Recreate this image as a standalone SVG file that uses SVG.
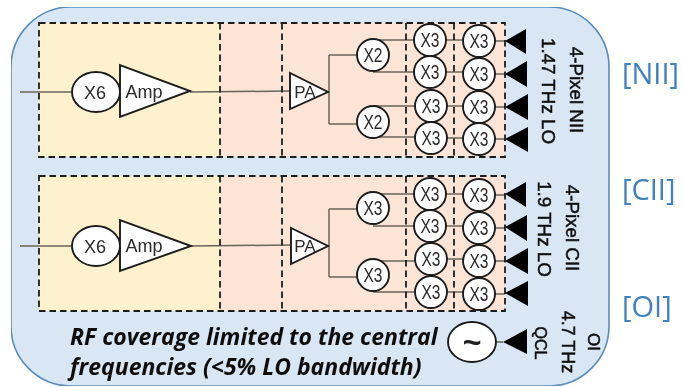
<svg xmlns="http://www.w3.org/2000/svg" width="683" height="387" viewBox="0 0 683 387">
<defs><filter id="soft" x="0" y="0" width="1" height="1"><feGaussianBlur stdDeviation="0.45"/></filter></defs>
<style>
text{font-family:"Liberation Sans",Arial,sans-serif;fill:#222}
.n{fill:#fff;stroke:#1c1c1c;stroke-width:1.9}
.l{font-size:18px;text-anchor:middle;fill:#2a2a2a}
.x{font-size:20px;text-anchor:middle;fill:#2a2a2a}
.c{fill:none;stroke:#6b6458;stroke-width:1.5}
.d{fill:none;stroke:#1c1c1c;stroke-width:1.8;stroke-dasharray:6.5 4}
.tip{fill:#000;stroke:none}
.v{font-size:18.8px;text-anchor:middle;fill:#111;stroke:#111;stroke-width:.5}
.o{font-family:"Open Sans",sans-serif;font-size:29px;fill:#3f82bd}
.b{font-family:"Open Sans",sans-serif;font-size:23px;font-weight:700;font-style:italic;fill:#111}
</style>
<g filter="url(#soft)">
<g id="panel"><rect x="11" y="7" width="598" height="379" rx="60" fill="#d9e6f4" stroke="#5b8db8" stroke-width="1.6"/></g>
<g id="bands">
<rect x="39" y="23" width="181" height="134" fill="#fef1cd"/><rect x="220" y="23" width="285" height="134" fill="#fce4d6"/>
<rect x="39" y="176" width="181" height="135" fill="#fef1cd"/><rect x="220" y="176" width="285" height="135" fill="#fce4d6"/>
</g>
<g id="connectors">
<path class="c" d="M20 92H72M190 92L290 91M328 92H329M329 55V124M329 55H357M329 124H357M373 40H414M373 72H414M373 106H415M373 137H415M446 40H463M446 72H463M447 106H463M447 138H463M495 41H505M495 74H505M495 107H505M495 139H505"/>
<path class="c" d="M20 246H72M190 246L290 245M328 246H329M329 209V277M329 209H357M329 277H357M373 194H414M373 226H414M373 261H415M373 292H415M446 194H463M446 226H463M447 259H463M447 292H463M495 195H505M495 228H505M495 261H505M495 294H505M496 342H503"/>
</g>
<g id="dashes">
<path class="d" d="M39 23H505V157H39ZM220 23V157M282 23V157M406 23V157M454 23V157"/>
<path class="d" d="M39 176H505V311H39ZM220 176V311M282 176V311M406 176V311M454 176V311"/>
</g>
<g id="x6-a"><ellipse class="n" cx="96" cy="92" rx="24" ry="20"/><text class="l" x="95" y="98.500">X6</text></g>
<g id="amp-a"><path class="n" d="M120 65V117L190 91Z"/><text class="l" x="144" y="98">Amp</text></g>
<g id="pa-a"><path class="n" d="M290 73V109L328 92Z"/><text class="l" x="305" y="98" style="font-size:17px">PA</text></g>
<g id="x6-b"><ellipse class="n" cx="96" cy="246" rx="24" ry="20"/><text class="l" x="95" y="252.500">X6</text></g>
<g id="amp-b"><path class="n" d="M120 220V271L191 246Z"/><text class="l" x="144" y="252">Amp</text></g>
<g id="pa-b"><path class="n" d="M291 228V264L328 246Z"/><text class="l" x="305" y="252" style="font-size:17px">PA</text></g>
<g id="a1"><circle class="n" cx="373" cy="55" r="16"/><text class="x" x="373" y="62" textLength="19" lengthAdjust="spacingAndGlyphs">X2</text></g>
<g id="a2"><circle class="n" cx="373" cy="122" r="16"/><text class="x" x="373" y="129" textLength="19" lengthAdjust="spacingAndGlyphs">X2</text></g>
<g id="a3"><circle class="n" cx="430" cy="40" r="16"/><text class="x" x="430" y="47" textLength="19" lengthAdjust="spacingAndGlyphs">X3</text></g>
<g id="a4"><circle class="n" cx="430" cy="72" r="16"/><text class="x" x="430" y="79" textLength="19" lengthAdjust="spacingAndGlyphs">X3</text></g>
<g id="a5"><circle class="n" cx="431" cy="106" r="16"/><text class="x" x="431" y="113" textLength="19" lengthAdjust="spacingAndGlyphs">X3</text></g>
<g id="a6"><circle class="n" cx="431" cy="138" r="16"/><text class="x" x="431" y="145" textLength="19" lengthAdjust="spacingAndGlyphs">X3</text></g>
<g id="a7"><circle class="n" cx="479" cy="41" r="16"/><text class="x" x="479" y="48" textLength="19" lengthAdjust="spacingAndGlyphs">X3</text></g>
<g id="a8"><circle class="n" cx="479" cy="74" r="16"/><text class="x" x="479" y="81" textLength="19" lengthAdjust="spacingAndGlyphs">X3</text></g>
<g id="a9"><circle class="n" cx="479" cy="107" r="16"/><text class="x" x="479" y="114" textLength="19" lengthAdjust="spacingAndGlyphs">X3</text></g>
<g id="a10"><circle class="n" cx="479" cy="139" r="16"/><text class="x" x="479" y="146" textLength="19" lengthAdjust="spacingAndGlyphs">X3</text></g>
<g id="b1"><circle class="n" cx="373" cy="208" r="16"/><text class="x" x="373" y="215" textLength="19" lengthAdjust="spacingAndGlyphs">X3</text></g>
<g id="b2"><circle class="n" cx="373" cy="275" r="16"/><text class="x" x="373" y="282" textLength="19" lengthAdjust="spacingAndGlyphs">X3</text></g>
<g id="b3"><circle class="n" cx="430" cy="194" r="16"/><text class="x" x="430" y="201" textLength="19" lengthAdjust="spacingAndGlyphs">X3</text></g>
<g id="b4"><circle class="n" cx="430" cy="226" r="16"/><text class="x" x="430" y="233" textLength="19" lengthAdjust="spacingAndGlyphs">X3</text></g>
<g id="b5"><circle class="n" cx="431" cy="259" r="16"/><text class="x" x="431" y="266" textLength="19" lengthAdjust="spacingAndGlyphs">X3</text></g>
<g id="b6"><circle class="n" cx="431" cy="292" r="16"/><text class="x" x="431" y="299" textLength="19" lengthAdjust="spacingAndGlyphs">X3</text></g>
<g id="b7"><circle class="n" cx="479" cy="195" r="16"/><text class="x" x="479" y="202" textLength="19" lengthAdjust="spacingAndGlyphs">X3</text></g>
<g id="b8"><circle class="n" cx="479" cy="228" r="16"/><text class="x" x="479" y="235" textLength="19" lengthAdjust="spacingAndGlyphs">X3</text></g>
<g id="b9"><circle class="n" cx="479" cy="261" r="16"/><text class="x" x="479" y="268" textLength="19" lengthAdjust="spacingAndGlyphs">X3</text></g>
<g id="b10"><circle class="n" cx="479" cy="294" r="16"/><text class="x" x="479" y="301" textLength="19" lengthAdjust="spacingAndGlyphs">X3</text></g>
<g id="feeds">
<path class="tip" d="M505 41L526 29V54Z"/><path class="tip" d="M505 74L527 61V87Z"/><path class="tip" d="M505 107L528 94V120Z"/><path class="tip" d="M505 139L528 127V152Z"/>
<path class="tip" d="M505 194L526 182V207Z"/><path class="tip" d="M505 227L527 215V241Z"/><path class="tip" d="M505 261L528 248V274Z"/><path class="tip" d="M505 293L528 281V306Z"/>
<path class="tip" d="M503 342L527 329V354Z"/>
</g>
<g id="qcl"><ellipse class="n" cx="472" cy="342" rx="24" ry="20"/><text x="472" y="353" text-anchor="middle" font-size="32" font-weight="700" fill="#111">~</text></g>
<g id="side-labels">
<text class="v" transform="translate(570 90) rotate(90)">4-Pixel NII</text>
<text class="v" transform="translate(542 91) rotate(90)">1.47 THz LO</text>
<text class="v" transform="translate(566 228) rotate(90)">4-Pixel CII</text>
<text class="v" transform="translate(538 229) rotate(90)">1.9 THz LO</text>
<text class="v" transform="translate(562 342) rotate(90)" style="font-size:18px">4.7 THz</text>
<text class="v" transform="translate(535 343) rotate(90)" style="font-size:16px">QCL</text>
<text class="v" transform="translate(588 342) rotate(90)" style="font-size:17px">OI</text>
</g>
<g id="bands-labels">
<text class="o" x="622" y="84">[NII]</text>
<text class="o" x="622" y="200">[CII]</text>
<text class="o" x="622" y="317">[OI]</text>
</g>
<g id="note">
<text class="b" x="70" y="345">RF coverage limited to the central</text>
<text class="b" x="70" y="375">frequencies (&lt;5% LO bandwidth)</text>
</g>
</g>
</svg>
